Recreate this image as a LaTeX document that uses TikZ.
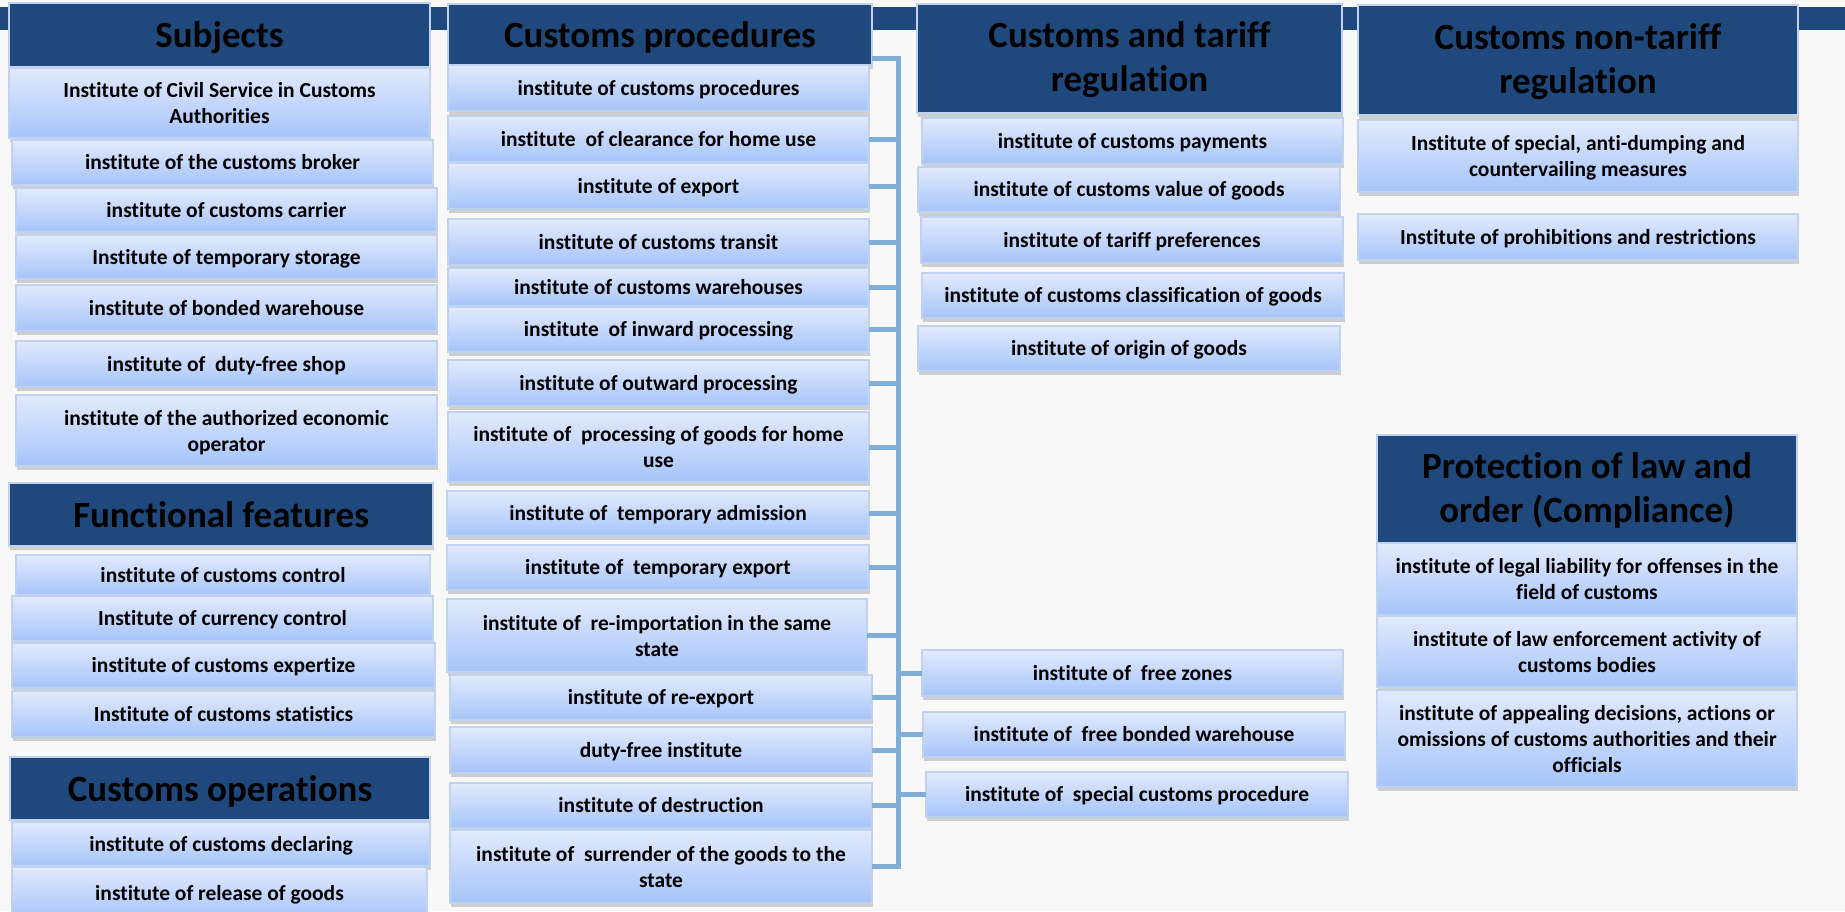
\documentclass[tikz,border=0pt]{standalone}
\usepackage{fontspec}
\setmainfont{Carlito}[Ligatures={NoCommon,NoContextual}]
\usepackage{tikz}
\usetikzlibrary{positioning, shadows}
\definecolor{hdblue}{RGB}{31,73,125}
\definecolor{boxtop}{RGB}{226,234,252}
\definecolor{boxbot}{RGB}{166,196,250}
\definecolor{boxline}{RGB}{192,210,238}
\definecolor{linkblue}{RGB}{128,174,214}
\definecolor{bgray}{RGB}{248,248,248}
\newcommand{\bstrut}{\rule[-0.22em]{0pt}{1.12em}}

\tikzset{
  wh/.style 2 args={minimum width=#1pt, minimum height=#2pt},
  item/.style={anchor=north west, draw=boxline, line width=1.2pt, inner sep=2pt, outer sep=0pt,
    top color=boxtop, bottom color=boxbot, align=center,
    drop shadow={shadow xshift=1pt, shadow yshift=-4pt, opacity=0.35},
    execute at begin node=\bstrut, text depth=4.7pt,
    font=\fontsize{21.5}{26}\selectfont\bfseries},
  head/.style={item, fill=hdblue, top color=hdblue, bottom color=hdblue, text depth=8.1pt,
    font=\fontsize{37}{44}\selectfont\bfseries},
  ml/.style={text depth=0pt},
  hml/.style={text depth=3.3pt},
  link/.style={draw=linkblue, line width=5pt}
}

\begin{document}
\begin{tikzpicture}[x=1pt, y=-1pt]
  \useasboundingbox (0,0) rectangle (1845,911);
  \fill[bgray] (0,0) rectangle (1845,911);
  \fill[hdblue] (0,7) rectangle (1845,30);%band

  % subjects
  \node[head, wh={421}{64}] (hsub) at (9,3) {Subjects};
  \node[item, ml, wh={421}{70}] (sub1) at (9,68) {Institute of Civil Service in Customs\\Authorities};
  \node[item, wh={421}{45}] (sub2) at (12,140) {institute of the customs broker};
  \node[item, wh={421}{44}] (sub3) at (16,188) {institute of customs carrier};
  \node[item, wh={421}{44}] (sub4) at (16,235) {Institute of temporary storage};
  \node[item, wh={421}{46}] (sub5) at (16,285) {institute of bonded warehouse};
  \node[item, wh={421}{46}] (sub6) at (16,341) {institute of~ duty-free shop};
  \node[item, ml, wh={421}{71}] (sub7) at (16,395) {institute of the authorized economic\\operator};

  % functional features
  \node[head, wh={424}{63}] (hfun) at (9,483) {Functional features};
  \node[item, wh={414}{40}] (fun1) at (16,555) {institute of customs control};
  \node[item, wh={421}{45}] (fun2) at (12,596) {Institute of currency control};
  \node[item, wh={423}{45}] (fun3) at (12,643) {institute of customs expertize};
  \node[item, wh={423}{46}] (fun4) at (12,691) {Institute of customs statistics};

  % customs operations
  \node[head, wh={420}{63}] (hops) at (10,757) {Customs operations};
  \node[item, wh={418}{44}] (ops1) at (12,822) {institute of customs declaring};
  \node[item, wh={415}{52}] (ops2) at (12,867) {institute of release of goods};

  % customs procedures
  \node[head, wh={424}{61}] (hcp) at (448,4) {Customs procedures};
  \node[item, wh={421}{46}] (cp1) at (448,65) {institute of customs procedures};
  \node[item, wh={421}{46}] (cp2) at (448,116) {institute~ of clearance for home use};
  \node[item, wh={421}{46}] (cp3) at (448,163) {institute of export};
  \node[item, wh={421}{46}] (cp4) at (448,219) {institute of customs transit};
  \node[item, wh={421}{38}] (cp5) at (448,268) {institute of customs warehouses};
  \node[item, wh={421}{45}] (cp6) at (448,307) {institute~ of inward processing};
  \node[item, wh={421}{46}] (cp7) at (448,360) {institute of outward processing};
  \node[item, ml, wh={421}{70}] (cp8) at (448,412) {institute of~ processing of goods for home\\use};
  \node[item, wh={422}{45}] (cp9) at (447,491) {institute of~ temporary admission};
  \node[item, wh={422}{45}] (cp10) at (447,545) {institute of~ temporary export};
  \node[item, ml, wh={420}{73}] (cp11) at (447,599) {institute of~ re-importation in the same\\state};
  \node[item, wh={422}{45}] (cp12) at (450,675) {institute of re-export};
  \node[item, wh={422}{46}] (cp13) at (450,727) {duty-free institute};
  \node[item, wh={422}{45}] (cp14) at (450,783) {institute of destruction};
  \node[item, ml, wh={422}{73}] (cp15) at (450,830) {institute of~ surrender of the goods to the\\state};

  % customs and tariff regulation
  \node[head, hml, wh={425}{109}] (hct) at (917,4) {Customs and tariff\\regulation};
  \node[item, wh={421}{46}] (ct1) at (922,118) {institute of customs payments};
  \node[item, wh={422}{45}] (ct2) at (918,167) {institute of customs value of goods};
  \node[item, wh={422}{46}] (ct3) at (921,217) {institute of tariff preferences};
  \node[item, wh={422}{45}] (ct4) at (922,273) {institute of customs classification of goods};
  \node[item, wh={422}{45}] (ct5) at (918,326) {institute of origin of goods};

  % free zones
  \node[item, wh={421}{46}] (fz1) at (922,650) {institute of~ free zones};
  \node[item, wh={422}{45}] (fz2) at (923,712) {institute of~ free bonded warehouse};
  \node[item, wh={422}{45}] (fz3) at (926,772) {institute of~ special customs procedure};

  % non-tariff regulation
  \node[head, hml, wh={440}{110}] (hnt) at (1358,5) {Customs non-tariff\\regulation};
  \node[item, ml, wh={440}{72}] (nt1) at (1358,120) {Institute of special, anti-dumping and\\countervailing measures};
  \node[item, wh={440}{46}] (nt2) at (1358,214) {Institute of prohibitions and restrictions};

  % protection of law and order
  \node[head, hml, wh={420}{108}] (hpr) at (1377,435) {Protection of law and\\order (Compliance)};
  \node[item, ml, wh={420}{72}] (pr1) at (1377,543) {institute of legal liability for offenses in the\\field of customs};
  \node[item, ml, wh={420}{71}] (pr2) at (1377,616) {institute of law enforcement activity of\\customs bodies};
  \node[item, ml, wh={420}{97}] (pr3) at (1377,690) {institute of appealing decisions, actions or\\omissions of customs authorities and their\\officials};

  % connectors
  \coordinate (spine) at (898,0);
  \draw[link] ([yshift=7pt]hcp.south east) -| (cp15.east -| spine) -- (cp15.east);
  \foreach \n in {cp2,cp3,cp4,cp5,cp6,cp7,cp8,cp9,cp10,cp11,cp12,cp13,cp14}
    \draw[link] (\n.east) -- (\n.east -| spine);
  \foreach \n in {fz1,fz2,fz3}
    \draw[link] (\n.west -| spine) -- (\n.west);
\end{tikzpicture}
\end{document}
